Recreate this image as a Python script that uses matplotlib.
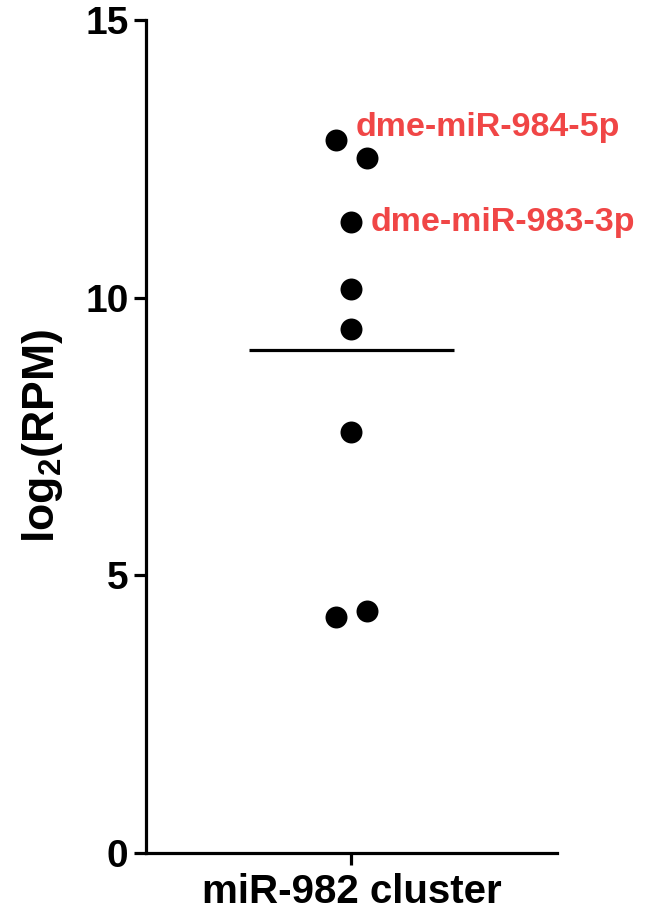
import matplotlib
matplotlib.use("Agg")
import matplotlib.pyplot as plt
import numpy as np

plt.rcParams["font.family"] = ["Liberation Sans", "DejaVu Sans"]
plt.rcParams["font.weight"] = "bold"
plt.rcParams["mathtext.default"] = "regular"

# data
group = "miR-982 cluster"
values = [12.84, 12.52, 11.36, 10.16, 9.44, 7.58, 4.25, 4.36]
labels = {0: "dme-miR-984-5p", 2: "dme-miR-983-3p"}
label_color = "#F04646"

# spread near-duplicate values sideways, like a column scatter
xs = np.zeros(len(values))
for i in range(len(values)):
    for j in range(i + 1, len(values)):
        if abs(values[i] - values[j]) < 0.5 and xs[i] == 0 and xs[j] == 0:
            xs[i], xs[j] = -0.075, 0.075

fig = plt.figure(figsize=(6.54, 9.15), dpi=100)
ax = fig.add_axes([0.2232, 0.0678, 0.6284, 0.9104])

ax.scatter(xs, values, s=250, color="black", zorder=3, linewidths=0)
mean = np.mean(values)
ax.plot([-0.5, 0.5], [mean, mean], color="black", lw=2.3, solid_capstyle="butt")

for i, txt in labels.items():
    dy = 9 if i == 0 else 0
    ax.annotate(txt, (xs[i], values[i]), xytext=(14, dy), textcoords="offset points",
                ha="left", va="center", color=label_color, fontsize=24.5, fontweight="bold")

ax.set_xlim(-1, 1)
ax.set_ylim(0, 15)
ax.set_yticks([0, 5, 10, 15])
ax.set_xticks([0])
ax.set_xticklabels([group], fontsize=29, fontweight="bold")
ax.set_yticklabels(["0", "5", "10", "15"], fontsize=28, fontweight="bold")
ax.set_ylabel("log$_2$(RPM)", fontsize=32, fontweight="bold")
ax.yaxis.set_label_coords(-0.197, 0.5)

for s in ["top", "right"]:
    ax.spines[s].set_visible(False)
for s in ["left", "bottom"]:
    ax.spines[s].set_linewidth(2.3)
ax.tick_params(axis="both", width=2.3, length=8.5, pad=4, color="black")
ax.tick_params(axis="x", pad=6)

fig.savefig("out.png", dpi=100)
